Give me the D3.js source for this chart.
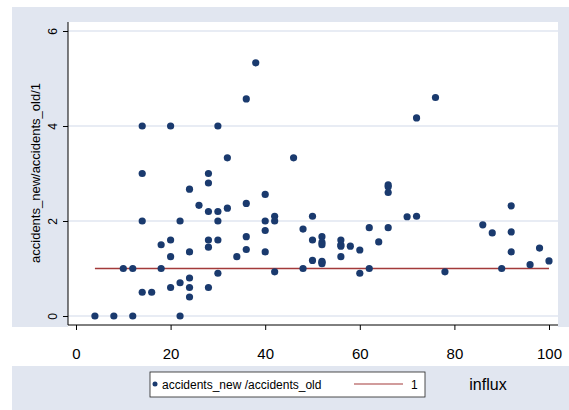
<!DOCTYPE html>
<html><head><meta charset="utf-8">
<script src="https://cdn.jsdelivr.net/npm/d3@7"></script>
<style>body{margin:0;background:#fff;font-family:Arial,"Liberation Sans",sans-serif}</style>
</head><body><div id="chart"></div>
<script>
// data
let influx = [4,8,12,22,10,12,18,48,90,62,14,16,14,20,30,14,14,18,20,20,20,22,24,24,24,24,24,22,
  26,28,28,28,28,28,28,30,30,30,30,32,32,34,36,36,36,36,38,
  40,40,40,40,42,42,42,46,48,50,50,50,52,52,52,52,52,52,56,56,56,56,58,60,60,62,64,
  66,66,66,66,70,72,72,76,78,86,88,92,92,92,96,98,100];
let ratio = [0,0,0,0,1,1,1,1,1,1,0.5,0.5,4,4,4,3,2,1.5,1.6,1.25,0.6,0.7,0.6,0.4,0.8,1.35,2.67,2,
  2.33,2.2,3,2.8,1.6,1.45,0.6,2.2,2,1.6,0.9,3.33,2.27,1.25,2.37,1.67,1.4,4.57,5.33,
  2.56,2,1.8,1.35,2.1,2,0.93,3.33,1.83,2.1,1.6,1.17,1.67,1.55,1.5,1.1,1.15,1.13,1.6,1.5,1.47,1.25,1.47,1.39,0.9,1.86,1.56,
  2.76,2.72,2.6,1.86,2.09,2.1,4.17,4.6,0.93,1.92,1.75,2.32,1.77,1.35,1.08,1.43,1.16];
let xTicks = [0,20,40,60,80,100];
let yTicks = [0,2,4,6];
let refLine = [[4,1],[100,1]];

let svg = d3.select('#chart').append('svg').attr('width',569).attr('height',410);
let x = d3.scaleLinear().domain([0,100]).range([76,549]);
let y = d3.scaleLinear().domain([0,6]).range([316,31]);

// background bands
svg.append('rect').attr('x',12).attr('y',7).attr('width',557).attr('height',320).attr('fill','#e1e6f0');
svg.append('rect').attr('x',12).attr('y',366).attr('width',557).attr('height',44).attr('fill','#e1e6f0');
// plot region
svg.append('rect').attr('x',68).attr('y',22).attr('width',490).attr('height',305).attr('fill','#fff');

// gridlines
svg.append('g').selectAll('line').data(yTicks).enter().append('line')
  .attr('x1',68).attr('x2',558).attr('y1',d=>y(d)).attr('y2',d=>y(d))
  .attr('stroke','#e1e6f0').attr('stroke-width',1.3);

// axes
let xAxis = svg.append('g').attr('transform','translate(0,325)')
  .call(d3.axisBottom(x).tickValues(xTicks).tickSize(5).tickSizeOuter(0));
xAxis.select('.domain').attr('d','M68,0H558');
xAxis.selectAll('text').attr('font-size',15).attr('font-family','Arial').attr('y',19).attr('dy','1em');

let yAxis = svg.append('g').attr('transform','translate(68,0)')
  .call(d3.axisLeft(y).tickValues(yTicks).tickFormat(d3.format('d')).tickSize(5).tickSizeOuter(0));
yAxis.select('.domain').attr('d','M0,22V325');
yAxis.selectAll('.tick text').attr('font-size',12).attr('font-family','Arial')
  .attr('x',0).attr('y',0).attr('dy','0').attr('text-anchor','middle')
  .attr('transform','translate(-11,0) rotate(-90)');

svg.append('text').attr('transform','translate(40,173) rotate(-90)').attr('text-anchor','middle')
  .attr('font-size',13).text('accidents_new/accidents_old/1');

// reference line
svg.append('path').datum(refLine).attr('fill','none').attr('stroke','#a33a3a').attr('stroke-width',1.3)
  .attr('d',d3.line().x(d=>x(d[0])).y(d=>y(d[1])));

// points
svg.append('g').selectAll('circle').data(influx).enter().append('circle')
  .attr('cx',d=>x(d)).attr('cy',(d,i)=>y(ratio[i])).attr('r',3.6).attr('fill','#1a3a6e');

// legend
let lg = svg.append('g');
lg.append('rect').attr('x',150).attr('y',372).attr('width',275).attr('height',25)
  .attr('fill','#fff').attr('stroke','#222').attr('stroke-width',0.8);
lg.append('circle').attr('cx',155).attr('cy',384).attr('r',2.5).attr('fill','#1a3a6e');
lg.append('text').attr('x',162).attr('y',388.5).attr('font-size',12).text('accidents_new /accidents_old');
lg.append('line').attr('x1',354).attr('x2',403).attr('y1',384).attr('y2',384).attr('stroke','#a33a3a').attr('stroke-width',1.2);
lg.append('text').attr('x',411).attr('y',388.5).attr('font-size',12).text('1');
svg.append('text').attr('x',488).attr('y',390).attr('font-size',16).attr('text-anchor','middle').text('influx');
</script></body></html>
